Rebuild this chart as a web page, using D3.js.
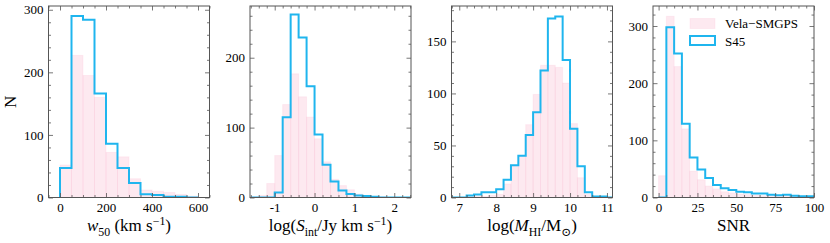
<!DOCTYPE html>
<html>
<head>
<meta charset="utf-8">
<script src="https://cdn.jsdelivr.net/npm/d3@7"></script>
<style>
  body { margin: 0; background: #fff; }
  text { font-family: "Liberation Serif", "DejaVu Serif", serif; fill: #000; }
</style>
</head>
<body>
<svg id="chart" width="830" height="243"></svg>
<script>
// Histogram bin edges and counts
const w50Edges = [0, 50, 100, 150, 200, 250, 300, 350, 400, 450, 500, 550, 600];
const w50S45   = [47, 290, 284, 166, 86, 47, 23, 5, 4, 1, 1, 0];
const w50Vela  = [52, 227, 195, 160, 72, 65, 30, 12, 10, 8, 5, 2];

const sintEdges = [-1.6, -1.4, -1.2, -1.0, -0.8, -0.6, -0.4, -0.2, 0, 0.2, 0.4,
                   0.6, 0.8, 1.0, 1.2, 1.4, 1.6, 1.8, 2.0, 2.2, 2.4];
const sintS45   = [0, 0, 0, 7, 115, 262, 229, 159, 90, 47, 23, 10, 5, 3, 2, 1, 0, 0, 0, 0];
const sintVela  = [1, 3, 20, 60, 133, 177, 144, 115, 84, 51, 26, 17, 11, 5, 3, 1, 1, 0, 0, 0];

const mhiEdges = [6.8, 7.0, 7.2, 7.4, 7.6, 7.8, 8.0, 8.2, 8.4, 8.6, 8.8, 9.0,
                  9.2, 9.4, 9.6, 9.8, 10.0, 10.2, 10.4, 10.6, 10.8, 11.0, 11.2];
const mhiS45   = [0, 0, 2, 3, 5, 5, 8, 17, 31, 40, 60, 82, 122, 172, 174, 132, 66, 30, 5, 1, 1, 0];
const mhiVela  = [0, 0, 1, 1, 1, 2, 3, 13, 30, 40, 70, 99, 127, 127, 125, 110, 71, 19, 3, 1, 0, 0];

const snrEdges = [0, 5, 10, 15, 20, 25, 30, 35, 40, 45, 50, 55, 60, 65, 70, 75, 80, 85, 90, 95, 100];
const snrS45   = [0, 298, 252, 129, 70, 49, 34, 22, 16, 13, 10, 9, 7, 7, 5, 4, 5, 3, 2, 2];
const snrVela  = [38, 317, 229, 120, 46, 31, 20, 15, 10, 8, 6, 5, 4, 3, 3, 2, 2, 2, 1, 1];

const seriesNames = ["Vela\u2212SMGPS", "S45"];

// Axis labels as (text, style) runs
const w50Label  = [{t: "w", i: true}, {t: "50", sub: true}, {t: " (km s"}, {t: "\u22121", sup: true}, {t: ")"}];
const sintLabel = [{t: "log("}, {t: "S", i: true}, {t: "int", sub: true}, {t: "/Jy km s"}, {t: "\u22121", sup: true}, {t: ")"}];
const mhiLabel  = [{t: "log("}, {t: "M", i: true}, {t: "HI", sub: true}, {t: "/M"}, {t: "\u2299", sub: true}, {t: ")"}];
const snrLabel  = [{t: "SNR"}];

const panels = [
  {edges: w50Edges,  s45: w50S45,  vela: w50Vela,  xDomain: [-50, 650],    yMax: 306, xMajor: 200, xMinor: 50,  yMajor: 100, yMinor: 20, xLabel: w50Label,  yLabel: "N"},
  {edges: sintEdges, s45: sintS45, vela: sintVela, xDomain: [-1.62, 2.42], yMax: 274, xMajor: 1,   xMinor: 0.2, yMajor: 100, yMinor: 20, xLabel: sintLabel},
  {edges: mhiEdges,  s45: mhiS45,  vela: mhiVela,  xDomain: [6.79, 11.15], yMax: 184, xMajor: 1,   xMinor: 0.2, yMajor: 50,  yMinor: 10, xLabel: mhiLabel},
  {edges: snrEdges,  s45: snrS45,  vela: snrVela,  xDomain: [-3.6, 100],   yMax: 335, xMajor: 25,  xMinor: 5,   yMajor: 100, yMinor: 20, xLabel: snrLabel, legend: true}
];

// Layout
const lefts = [48.5, 250, 451.5, 653];
const pw = 161;
const plotTop = 6;
const plotBottom = 197.5;
const blue = "#1fb5ee";
const pink = "#f8bbd0";
const pinkAlpha = 0.33;
const frameColor = "#555";

const svg = d3.select("#chart");

function tickValues(domain, step) {
  const start = Math.ceil(domain[0] / step - 1e-9) * step;
  return d3.range(start, domain[1] + step * 1e-6, step).map(v => +v.toFixed(6));
}

function richText(sel, runs, size) {
  let shift = 0;
  runs.forEach(r => {
    const want = r.sub ? size * 0.3 : r.sup ? -size * 0.38 : 0;
    const ts = sel.append("tspan").text(r.t).attr("dy", want - shift);
    shift = want;
    if (r.i) ts.style("font-style", "italic");
    if (r.sub || r.sup) ts.attr("font-size", (size * 0.7) + "px");
  });
}

panels.forEach((p, k) => {
  const x0 = lefts[k];
  const x = d3.scaleLinear().domain(p.xDomain).range([x0, x0 + pw]);
  const y = d3.scaleLinear().domain([0, p.yMax]).range([plotBottom, plotTop]);

  const g = svg.append("g");

  const clipId = "clip" + k;
  g.append("clipPath").attr("id", clipId)
    .append("rect")
    .attr("x", x0).attr("y", plotTop)
    .attr("width", pw).attr("height", plotBottom - plotTop);

  const plot = g.append("g").attr("clip-path", `url(#${clipId})`);

  // Vela-SMGPS: filled bars
  const bins = p.vela.map((c, i) => ({x0: p.edges[i], x1: p.edges[i + 1], c}));
  plot.selectAll("rect.vela")
    .data(bins)
    .enter()
    .append("rect")
    .attr("class", "vela")
    .attr("x", d => x(d.x0))
    .attr("width", d => x(d.x1) - x(d.x0))
    .attr("y", d => y(d.c))
    .attr("height", d => y(0) - y(d.c))
    .attr("fill", pink)
    .attr("fill-opacity", pinkAlpha)
    .attr("stroke", pink)
    .attr("stroke-opacity", 0.2)
    .attr("stroke-width", 1);

  // S45: step outline
  const pts = [[p.edges[0], 0]];
  p.s45.forEach((c, i) => {
    pts.push([p.edges[i], c]);
    pts.push([p.edges[i + 1], c]);
  });
  pts.push([p.edges[p.edges.length - 1], 0]);
  plot.append("path")
    .attr("d", d3.line().x(d => x(d[0])).y(d => y(d[1]))(pts))
    .attr("fill", "none")
    .attr("stroke", blue)
    .attr("stroke-width", 2)
    .attr("stroke-linejoin", "miter");

  // ticks, inward on all four sides
  const xMaj = tickValues(p.xDomain, p.xMajor);
  const xMin = tickValues(p.xDomain, p.xMinor).filter(v => !xMaj.some(m => Math.abs(m - v) < 1e-6));
  const yMaj = tickValues([0, p.yMax], p.yMajor);
  const yMin = tickValues([0, p.yMax], p.yMinor).filter(v => !yMaj.some(m => Math.abs(m - v) < 1e-6));

  const fmt = v => (v < 0 ? "-" : "") + Math.abs(v);

  const axes = [
    [d3.axisBottom(x).tickValues(xMaj).tickFormat(fmt).tickSizeInner(-4.5), plotBottom, 0, true],
    [d3.axisBottom(x).tickValues(xMin).tickFormat("").tickSizeInner(-2.5), plotBottom, 0, false],
    [d3.axisTop(x).tickValues(xMaj).tickFormat("").tickSizeInner(-4.5), plotTop, 0, false],
    [d3.axisTop(x).tickValues(xMin).tickFormat("").tickSizeInner(-2.5), plotTop, 0, false],
    [d3.axisLeft(y).tickValues(yMaj).tickFormat(fmt).tickSizeInner(-4.5), 0, x0, true],
    [d3.axisLeft(y).tickValues(yMin).tickFormat("").tickSizeInner(-2.5), 0, x0, false],
    [d3.axisRight(y).tickValues(yMaj).tickFormat("").tickSizeInner(-4.5), 0, x0 + pw, false],
    [d3.axisRight(y).tickValues(yMin).tickFormat("").tickSizeInner(-2.5), 0, x0 + pw, false]
  ];
  axes.forEach(([ax, ty, tx, labelled]) => {
    const a = g.append("g")
      .attr("transform", `translate(${tx},${ty})`)
      .call(ax.tickSizeOuter(0).tickPadding(labelled ? 5 : 0));
    a.select(".domain").remove();
    a.selectAll("line").attr("stroke", frameColor).attr("stroke-width", 0.8);
    a.selectAll("text")
      .style("font-family", "'Liberation Serif', 'DejaVu Serif', serif")
      .style("font-size", "13px")
      .attr("fill", "#000");
  });

  // frame
  g.append("rect")
    .attr("x", x0).attr("y", plotTop)
    .attr("width", pw).attr("height", plotBottom - plotTop)
    .attr("fill", "none")
    .attr("stroke", frameColor)
    .attr("stroke-width", 1);

  // x label
  const xl = g.append("text")
    .attr("x", x0 + pw / 2)
    .attr("y", 231)
    .attr("text-anchor", "middle")
    .style("font-size", "17px");
  richText(xl, p.xLabel, 17);

  if (p.yLabel) {
    g.append("text")
      .attr("transform", `translate(16,${(plotTop + plotBottom) / 2}) rotate(-90)`)
      .attr("text-anchor", "middle")
      .style("font-size", "17px")
      .text(p.yLabel);
  }

  if (p.legend) {
    const lg = g.append("g");
    const lx = x0 + 37;
    lg.append("rect")
      .attr("x", lx).attr("y", 18.5).attr("width", 25).attr("height", 10)
      .attr("fill", pink).attr("fill-opacity", pinkAlpha)
      .attr("stroke", pink).attr("stroke-opacity", 0.2);
    lg.append("rect")
      .attr("x", lx).attr("y", 36).attr("width", 25).attr("height", 9)
      .attr("fill", "none").attr("stroke", blue).attr("stroke-width", 2);
    lg.append("text").attr("x", lx + 35).attr("y", 28).style("font-size", "13px").text(seriesNames[0]);
    lg.append("text").attr("x", lx + 35).attr("y", 45.5).style("font-size", "13px").text(seriesNames[1]);
  }
});
</script>
</body>
</html>
